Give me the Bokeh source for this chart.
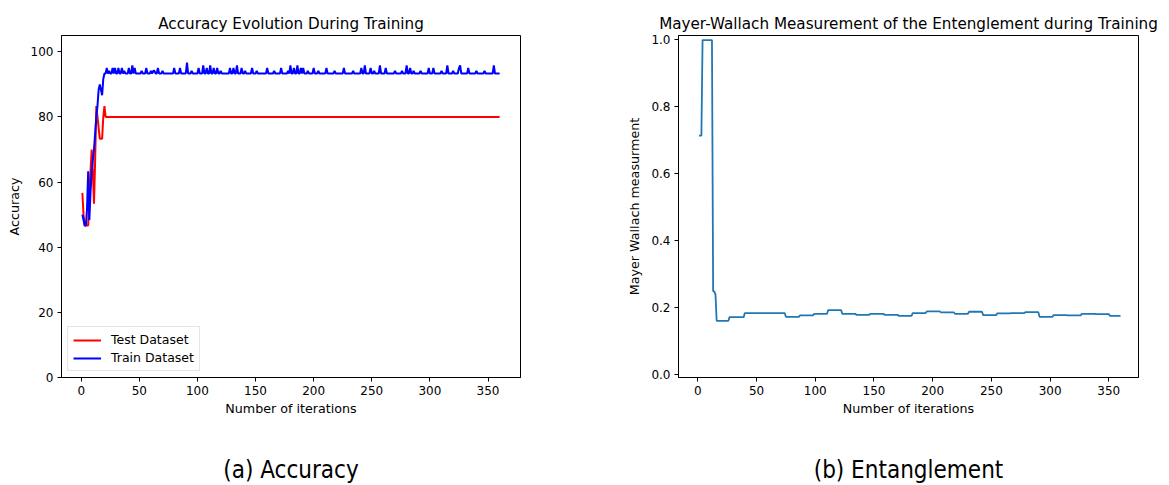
import numpy as np
from bokeh.plotting import figure
from bokeh.layouts import row
from bokeh.models import (FixedTicker, PrintfTickFormatter, Title, Legend,
                          LegendItem, ColumnDataSource, Range1d)
from bokeh.embed import file_html
from bokeh.resources import INLINE

# ---------------- data ----------------
iterations = list(range(1, 361))

# Test accuracy (run-length encoded: value, number of iterations)
test_values = [56.67, 50.0, 46.67, 56.67, 63.33, 70.0, 63.33, 53.33, 66.67,
               83.33, 80.0, 76.67, 73.33, 80.0, 83.33, 80.0]
test_runs = [1, 1, 4, 1, 1, 1, 1, 1, 1, 1, 1, 1, 3, 1, 1, 340]

# Train accuracy: first iterations, then plateau level with spikes
train_early = [50.0, 48.33, 46.67, 46.67, 51.67, 63.33, 48.33, 56.67, 63.33,
               66.67, 70.0, 75.0, 80.0, 83.33, 88.33, 90.0, 88.33, 86.67,
               91.67, 93.33]
train_plateau = 93.33
train_spike_iters = [22, 24, 27, 29, 32, 35, 37, 41, 44, 46, 52, 56, 60, 62,
                     63, 66, 70, 80, 85, 91, 95, 101, 105, 108, 111, 114, 117,
                     120, 128, 131, 134, 138, 141, 147, 151, 160, 166, 172,
                     178, 180, 183, 186, 189, 191, 195, 200, 204, 211, 218,
                     226, 234, 241, 244, 249, 252, 257, 262, 270, 276, 280,
                     283, 286, 292, 299, 303, 310, 315, 320, 325, 326, 333,
                     340, 347, 355]
train_spike_values = [95.0, 94.17, 95.0, 95.0, 95.0, 95.0, 94.17, 95.0, 95.83,
                      95.0, 94.17, 95.0, 94.17, 94.17, 94.17, 95.0, 94.17,
                      95.0, 95.0, 96.67, 94.17, 95.0, 95.83, 95.0, 95.83,
                      95.0, 95.0, 94.17, 95.0, 95.0, 95.83, 95.0, 94.17, 95.0,
                      94.17, 95.0, 94.17, 95.0, 94.17, 95.83, 95.0, 95.83,
                      95.0, 95.0, 94.17, 95.0, 94.17, 95.0, 94.17, 95.0,
                      94.17, 95.0, 95.83, 95.0, 94.17, 95.83, 95.0, 94.17,
                      94.17, 95.83, 95.0, 94.17, 94.17, 95.0, 95.0, 94.17,
                      95.83, 94.17, 95.0, 95.83, 95.0, 94.17, 94.17, 95.83]

# Mayer-Wallach entanglement (run-length encoded)
mw_values = [0.712, 0.997, 0.248, 0.238, 0.160, 0.171, 0.183, 0.172, 0.176,
             0.181, 0.192, 0.181, 0.178, 0.181, 0.178, 0.175, 0.183, 0.188,
             0.185, 0.181, 0.187, 0.177, 0.182, 0.183, 0.186, 0.172, 0.177,
             0.176, 0.181, 0.180, 0.175]
mw_runs = [3, 9, 2, 1, 11, 13, 35, 12, 12, 12, 12, 12, 12, 12, 12, 12, 12, 12,
           12, 12, 12, 12, 12, 12, 12, 12, 12, 12, 12, 12, 10]

acc_yticks = [0, 20, 40, 60, 80, 100]
mw_yticks = [0.0, 0.2, 0.4, 0.6, 0.8, 1.0]
x_ticks = [0, 50, 100, 150, 200, 250, 300, 350]

# ---------------- build series ----------------
test_acc = np.repeat(test_values, test_runs)
train_acc = np.full(len(iterations), train_plateau)
train_acc[:len(train_early)] = train_early
for it, v in zip(train_spike_iters, train_spike_values):
    train_acc[it - 1] = v
mw = np.repeat(mw_values, mw_runs)

FONT = "DejaVu Sans"
CAP_FONT = "'DejaVu Sans Condensed', 'Liberation Sans Narrow', sans-serif"


def style(p, xlabel, ylabel):
    p.outline_line_color = "black"
    p.outline_line_width = 1
    p.xgrid.visible = False
    p.ygrid.visible = False
    p.background_fill_color = "white"
    p.border_fill_color = "white"
    for ax in (p.xaxis[0], p.yaxis[0]):
        ax.major_tick_out = 4
        ax.major_tick_in = 0
        ax.minor_tick_line_color = None
        ax.axis_line_color = "black"
        ax.major_tick_line_color = "black"
        ax.major_label_text_font = FONT
        ax.major_label_text_font_size = "12px"
        ax.major_label_text_color = "black"
        ax.axis_label_text_font = FONT
        ax.axis_label_text_font_size = "12.7px"
        ax.axis_label_text_font_style = "normal"
        ax.axis_label_text_color = "black"
    p.xaxis[0].axis_label = xlabel
    p.yaxis[0].axis_label = ylabel
    p.xaxis[0].ticker = FixedTicker(ticks=x_ticks)
    p.xaxis[0].major_label_standoff = 4
    p.xaxis[0].axis_label_standoff = 3
    p.yaxis[0].major_label_standoff = 4
    p.yaxis[0].axis_label_standoff = 6
    p.title.text_font = FONT
    p.title.text_font_size = "15.2px"
    p.title.text_font_style = "normal"
    p.title.text_color = "black"
    p.title.align = "center"
    p.title.standoff = 6


# ---- left: accuracy ----
p1 = figure(width=600, height=485, frame_width=459, frame_height=342,
            min_border_left=61, min_border_top=35, min_border_bottom=108,
            min_border_right=80,
            x_range=Range1d(-16.95, 377.95), y_range=Range1d(0, 105),
            title="Accuracy Evolution During Training",
            output_backend="svg", toolbar_location=None)
src1 = ColumnDataSource(dict(x=iterations, test=test_acc, train=train_acc))
r_test = p1.line("x", "test", source=src1, line_color="#ff0000", line_width=2)
r_train = p1.line("x", "train", source=src1, line_color="#0000ff", line_width=2)
style(p1, "Number of iterations", "Accuracy")
p1.yaxis[0].ticker = FixedTicker(ticks=acc_yticks)

legend = Legend(items=[LegendItem(label="Test Dataset", renderers=[r_test]),
                       LegendItem(label="Train Dataset", renderers=[r_train])],
                location="bottom_left")
legend.label_text_font = FONT
legend.label_text_font_size = "12.5px"
legend.label_text_color = "black"
legend.border_line_color = "#cccccc"
legend.background_fill_alpha = 0.8
legend.glyph_width = 28
legend.glyph_height = 14
legend.label_standoff = 10
legend.label_height = 14
legend.spacing = 3
legend.padding = 5
legend.margin = 6
p1.add_layout(legend)

cap1 = Title(text="(a) Accuracy", align="center", text_font=CAP_FONT,
             text_font_size="24px", text_font_style="normal",
             text_color="black", standoff=70)
p1.add_layout(cap1, "below")

# ---- right: Mayer-Wallach ----
p2 = figure(width=569, height=485, frame_width=460, frame_height=342,
            min_border_left=78, min_border_top=35, min_border_bottom=108,
            min_border_right=31,
            x_range=Range1d(-16.5, 375.3), y_range=Range1d(-0.009, 1.0107),
            title="Mayer-Wallach Measurement of the Entenglement during Training",
            output_backend="svg", toolbar_location=None)
src2 = ColumnDataSource(dict(x=iterations, mw=mw))
p2.line("x", "mw", source=src2, line_color="#1f77b4", line_width=1.8)
style(p2, "Number of iterations", "Mayer Wallach measurment")
p2.yaxis[0].ticker = FixedTicker(ticks=mw_yticks)
p2.yaxis[0].formatter = PrintfTickFormatter(format="%.1f")

cap2 = Title(text="(b) Entanglement", align="center", text_font=CAP_FONT,
             text_font_size="24px", text_font_style="normal",
             text_color="black", standoff=70)
p2.add_layout(cap2, "below")

layout = row(p1, p2, spacing=0)
open("out.html", "w").write(file_html(layout, INLINE))
